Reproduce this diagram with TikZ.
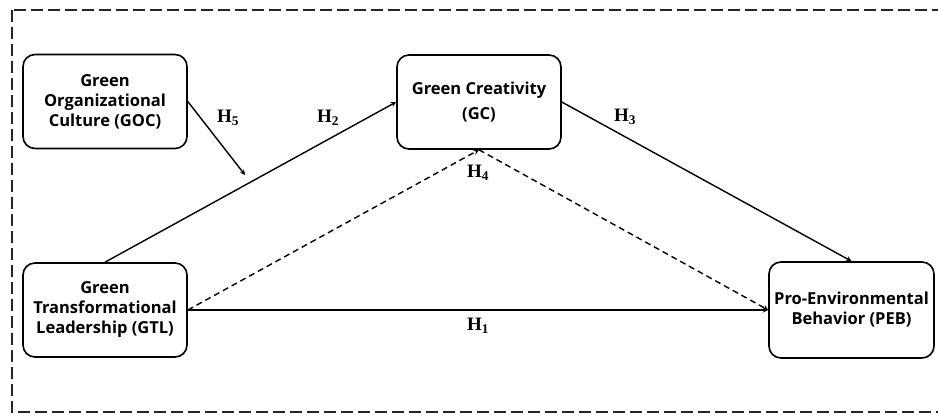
\documentclass[tikz,border=0pt]{standalone}
\usepackage{fontspec}
\setmainfont{Liberation Serif}
\setsansfont{Open Sans}

\tikzset{
	box/.style={draw, rounded corners=12pt, line width=1.6pt, minimum width=164pt, minimum height=94pt, align=center, inner sep=2pt, font=\sffamily\bfseries\fontsize{16.5}{20}\selectfont},
	hlab/.style={font=\bfseries\fontsize{19}{20}\selectfont},
}

\begin{document}
\begin{tikzpicture}[>=stealth, x=1pt, y=-1pt, line width=1.4pt]
		% Khung ngoài
		\useasboundingbox (0,0) rectangle (938,415);
		\draw[dash pattern=on 12pt off 5pt, line width=1.8pt, black!85] (12,10) rectangle (960,412);
		
		% Các khối
		\node[box] (goc) at (105,101.5) {Green\\Organizational\\Culture (GOC)};
		\node[box, font=\sffamily\bfseries\fontsize{16.5}{25}\selectfont] (gc) at (479,102) {Green Creativity\\(GC)};
		\node[box] (gtl) at (105,310) {Green\\Transformational\\Leadership (GTL)};
		\node[box, minimum width=165pt, minimum height=96pt] (peb) at (851.5,310) {Pro-Environmental\\Behavior (PEB)};
		
		% Các mũi tên liền
		\draw[->] (gtl.north) -- coordinate[pos=0.5] (m) (gc.west);
		\draw[->, shorten >=9pt] (goc.east) -- (m);
		\draw[->] (gc.east) -- (peb.north);
		\draw[->] (gtl.east) -- (peb.west);
		
		% Các mũi tên nét đứt
		\draw[->, dashed, dash pattern=on 6pt off 4pt] (gtl.east) -- (gc.south);
		\draw[->, dashed, dash pattern=on 6pt off 4pt] (gc.south) -- (peb.west);
		
		% Nhãn giả thuyết
		\node[hlab] (h5) at (228,118) {H\textsubscript{5}};
		\node[hlab] (h2) at (328,118) {H\textsubscript{2}};
		\node[hlab] (h3) at (625,117) {H\textsubscript{3}};
		\node[hlab] (h4) at (478,173) {H\textsubscript{4}};
		\node[hlab] (h1) at (478,326) {H\textsubscript{1}};
\end{tikzpicture}
\end{document}
